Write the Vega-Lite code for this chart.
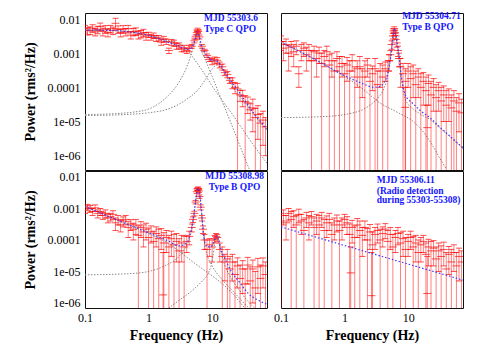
{
"$schema": "https://vega.github.io/schema/vega-lite/v6.json",
"padding": {"left": 22, "top": 10, "right": 5, "bottom": 0},
"background": "white",
"config": {
  "view": {"stroke": "#111", "strokeWidth": 1},
  "axis": {"domain": false, "grid": false, "labelFont": "Liberation Serif", "labelFontSize": 12, "labelColor": "#000", "titleFont": "Liberation Serif", "titleFontSize": 14, "titleFontWeight": "bold", "titleColor": "#000", "tickColor": "#000", "tickSize": 0, "labelOverlap": false, "labelFlush": false, "labelBound": false, "labelPadding": 5}
},
"datasets": {
"d1": [
{"f":0.1,"p":0.0052,"l":0.0039,"h":0.0065},{"f":0.1096,"p":0.0045,"l":0.0034,"h":0.0056},{"f":0.1202,"p":0.0047,"l":0.0035,"h":0.0059},{"f":0.1318,"p":0.0054,"l":0.0041,"h":0.0068},{"f":0.1445,"p":0.0042,"l":0.0032,"h":0.0053},{"f":0.1585,"p":0.0049,"l":0.0037,"h":0.0061},{"f":0.1738,"p":0.0061,"l":0.0046,"h":0.0076},{"f":0.1905,"p":0.0043,"l":0.0032,"h":0.0054},{"f":0.2089,"p":0.0051,"l":0.0038,"h":0.0064},{"f":0.2291,"p":0.0040,"l":0.0030,"h":0.0050},{"f":0.2512,"p":0.0052,"l":0.0039,"h":0.0065},{"f":0.2754,"p":0.0046,"l":0.0035,"h":0.0058},{"f":0.302,"p":0.0075,"l":0.0052,"h":0.0105},{"f":0.3311,"p":0.0050,"l":0.0038,"h":0.0063},{"f":0.3631,"p":0.0040,"l":0.0030,"h":0.0050},{"f":0.3981,"p":0.0051,"l":0.0038,"h":0.0064},{"f":0.4365,"p":0.0042,"l":0.0032,"h":0.0053},{"f":0.4786,"p":0.0052,"l":0.0039,"h":0.0065},{"f":0.5248,"p":0.0034,"l":0.0026,"h":0.0043},{"f":0.5754,"p":0.0042,"l":0.0032,"h":0.0053},{"f":0.631,"p":0.0044,"l":0.0033,"h":0.0055},{"f":0.6918,"p":0.0035,"l":0.0026,"h":0.0044},{"f":0.7586,"p":0.0037,"l":0.0028,"h":0.0046},{"f":0.8318,"p":0.0040,"l":0.0030,"h":0.0050},{"f":0.912,"p":0.0032,"l":0.0024,"h":0.0040},
{"f":1.0,"p":0.0035,"l":0.0029,"h":0.0041},{"f":1.096,"p":0.0029,"l":0.0024,"h":0.0034},{"f":1.202,"p":0.0033,"l":0.0027,"h":0.0039},{"f":1.318,"p":0.0027,"l":0.0022,"h":0.0032},{"f":1.445,"p":0.0028,"l":0.0023,"h":0.0033},{"f":1.585,"p":0.0021,"l":0.0017,"h":0.0025},{"f":1.738,"p":0.0026,"l":0.0021,"h":0.0031},{"f":1.905,"p":0.0022,"l":0.0018,"h":0.0026},{"f":2.089,"p":0.0012,"l":0.00098,"h":0.0014},{"f":2.291,"p":0.0021,"l":0.0017,"h":0.0025},{"f":2.512,"p":0.0020,"l":0.0016,"h":0.0024},{"f":2.754,"p":0.0016,"l":0.0013,"h":0.0019},{"f":3.02,"p":0.0017,"l":0.0014,"h":0.0020},{"f":3.311,"p":0.0013,"l":0.0011,"h":0.0015},{"f":3.631,"p":0.0014,"l":0.0011,"h":0.0017},{"f":3.981,"p":0.0012,"l":0.00098,"h":0.0014},{"f":4.365,"p":0.0014,"l":0.0011,"h":0.0017},{"f":4.786,"p":0.0016,"l":0.0014,"h":0.0018},{"f":5.248,"p":0.0023,"l":0.0020,"h":0.0026},{"f":5.5,"p":0.0030,"l":0.0026,"h":0.0034},{"f":5.754,"p":0.0040,"l":0.0035,"h":0.0045},{"f":5.9,"p":0.0048,"l":0.0042,"h":0.0054},{"f":6.05,"p":0.0043,"l":0.0038,"h":0.0048},{"f":6.31,"p":0.0030,"l":0.0026,"h":0.0034},{"f":6.918,"p":0.0016,"l":0.0014,"h":0.0018},{"f":7.586,"p":0.0012,"l":0.0011,"h":0.0013},{"f":8.318,"p":0.00085,"l":0.00075,"h":0.00095},{"f":9.12,"p":0.00065,"l":0.00057,"h":0.00073},
{"f":10.0,"p":0.00058,"l":0.00046,"h":0.0007},{"f":10.96,"p":0.00064,"l":0.00051,"h":0.00077},{"f":12.02,"p":0.00062,"l":0.0005,"h":0.00074},{"f":13.18,"p":0.00046,"l":0.00037,"h":0.00055},{"f":14.45,"p":0.0004,"l":0.00032,"h":0.00048},{"f":15.85,"p":0.00027,"l":0.00022,"h":0.00032},{"f":17.38,"p":0.00024,"l":0.00019,"h":0.00029},{"f":19.05,"p":0.00016,"l":0.00013,"h":0.00019},{"f":20.89,"p":0.00014,"l":0.000091,"h":0.00019},{"f":22.91,"p":0.0001,"l":0.000065,"h":0.000135},{"f":25.12,"p":0.00009,"l":1e-8,"h":0.00013},{"f":27.54,"p":0.00006,"l":0.000039,"h":0.000081},{"f":30.2,"p":0.000055,"l":0.000027,"h":0.000082},{"f":33.11,"p":0.000038,"l":1e-8,"h":0.000057},{"f":36.31,"p":0.000035,"l":0.000017,"h":0.000052},{"f":39.81,"p":0.000022,"l":0.000011,"h":0.000033},{"f":43.65,"p":0.000025,"l":0.000005,"h":0.000045},{"f":47.86,"p":0.000013,"l":1e-8,"h":0.000024},{"f":52.48,"p":0.000016,"l":0.000003,"h":0.000029},{"f":57.54,"p":0.000009,"l":1e-8,"h":0.000017},{"f":63.1,"p":0.000011,"l":0.000002,"h":0.00002},{"f":69.18,"p":0.000007,"l":0.000001,"h":0.000013}
],
"m1": [
{"f":0.1,"p":0.0047,"s":"t"},{"f":0.2,"p":0.0047,"s":"t"},{"f":0.4,"p":0.0044,"s":"t"},{"f":0.6,"p":0.0040,"s":"t"},{"f":1,"p":0.0033,"s":"t"},{"f":1.5,"p":0.0026,"s":"t"},{"f":2,"p":0.0021,"s":"t"},{"f":2.8,"p":0.0017,"s":"t"},{"f":3.5,"p":0.0014,"s":"t"},{"f":4.3,"p":0.0013,"s":"t"},{"f":4.8,"p":0.0015,"s":"t"},{"f":5.2,"p":0.0021,"s":"t"},{"f":5.5,"p":0.0028,"s":"t"},{"f":5.75,"p":0.0038,"s":"t"},{"f":5.9,"p":0.0042,"s":"t"},{"f":6.1,"p":0.0038,"s":"t"},{"f":6.4,"p":0.0027,"s":"t"},{"f":6.8,"p":0.0017,"s":"t"},{"f":7.5,"p":0.0011,"s":"t"},{"f":8.5,"p":0.0008,"s":"t"},{"f":10,"p":0.0006,"s":"t"},{"f":11.5,"p":0.0006,"s":"t"},{"f":13,"p":0.0005,"s":"t"},{"f":16,"p":0.00028,"s":"t"},{"f":20,"p":0.00015,"s":"t"},{"f":25,"p":0.000085,"s":"t"},{"f":30,"p":0.000052,"s":"t"},{"f":40,"p":0.000024,"s":"t"},{"f":53,"p":0.000012,"s":"t"},{"f":73,"p":0.000006,"s":"t"},
{"f":0.1,"p":0.0047,"s":"a"},{"f":0.3,"p":0.0045,"s":"a"},{"f":0.6,"p":0.0040,"s":"a"},{"f":1,"p":0.0033,"s":"a"},{"f":2,"p":0.0024,"s":"a"},{"f":3,"p":0.0019,"s":"a"},{"f":3.76,"p":0.0015,"s":"a"},{"f":5,"p":0.00075,"s":"a"},{"f":7,"p":0.00031,"s":"a"},{"f":10,"p":0.00011,"s":"a"},{"f":15,"p":0.000037,"s":"a"},{"f":20,"p":0.000018,"s":"a"},{"f":30,"p":0.000006,"s":"a"},{"f":45,"p":0.000002,"s":"a"},{"f":57,"p":0.0000011,"s":"a"},{"f":73,"p":0.0000006,"s":"a"},
{"f":0.1,"p":0.000016,"s":"b"},{"f":0.3,"p":0.000017,"s":"b"},{"f":0.6,"p":0.000019,"s":"b"},{"f":1,"p":0.000023,"s":"b"},{"f":1.5,"p":0.000035,"s":"b"},{"f":2,"p":0.000055,"s":"b"},{"f":3,"p":0.00014,"s":"b"},{"f":4,"p":0.0004,"s":"b"},{"f":5,"p":0.0014,"s":"b"},{"f":5.5,"p":0.0028,"s":"b"},{"f":5.9,"p":0.004,"s":"b"},{"f":6.3,"p":0.0028,"s":"b"},{"f":6.6,"p":0.0015,"s":"b"},{"f":7.5,"p":0.00078,"s":"b"},{"f":9,"p":0.00034,"s":"b"},{"f":12,"p":0.000089,"s":"b"},{"f":16,"p":0.000024,"s":"b"},{"f":22,"p":0.0000055,"s":"b"},{"f":33,"p":0.0000008,"s":"b"},{"f":45,"p":0.0000002,"s":"b"},
{"f":0.1,"p":0.000015,"s":"c"},{"f":0.3,"p":0.0000155,"s":"c"},{"f":0.6,"p":0.0000165,"s":"c"},{"f":1,"p":0.000018,"s":"c"},{"f":2,"p":0.000023,"s":"c"},{"f":3,"p":0.000032,"s":"c"},{"f":4,"p":0.000045,"s":"c"},{"f":6,"p":0.000085,"s":"c"},{"f":8,"p":0.00018,"s":"c"},{"f":10,"p":0.00034,"s":"c"},{"f":12,"p":0.00045,"s":"c"},{"f":14,"p":0.00036,"s":"c"},{"f":17,"p":0.0002,"s":"c"},{"f":20,"p":0.00012,"s":"c"},{"f":25,"p":0.000065,"s":"c"},{"f":30,"p":0.000045,"s":"c"},{"f":40,"p":0.000022,"s":"c"},{"f":53,"p":0.000011,"s":"c"},{"f":73,"p":0.0000055,"s":"c"}
],
"t1": [{"f":7.48,"p":0.0106,"t":"MJD 55303.6"},{"f":7.48,"p":0.0051,"t":"Type C QPO"}],
"d2": [
{"f":0.1,"p":0.0022,"l":0.0012,"h":0.0032},{"f":0.1096,"p":0.0014,"l":0.0006,"h":0.0022},{"f":0.1202,"p":0.0018,"l":0.001,"h":0.0026},{"f":0.1318,"p":0.001,"l":0.0003,"h":0.0017},{"f":0.1445,"p":0.0015,"l":0.0008,"h":0.0022},{"f":0.1585,"p":0.0011,"l":0.0004,"h":0.0018},{"f":0.1738,"p":0.0016,"l":0.0009,"h":0.0023},{"f":0.1905,"p":0.00025,"l":0.0001,"h":0.0004},{"f":0.2089,"p":0.0012,"l":0.0006,"h":0.0018},{"f":0.2291,"p":0.0014,"l":0.0008,"h":0.002},{"f":0.2512,"p":0.0009,"l":0.0003,"h":0.0015},{"f":0.2754,"p":0.0012,"l":0.0006,"h":0.0018},{"f":0.302,"p":0.0006,"l":1e-8,"h":0.0012},{"f":0.3311,"p":0.0011,"l":0.0006,"h":0.0016},{"f":0.3631,"p":0.0007,"l":0.0002,"h":0.0012},{"f":0.3981,"p":0.001,"l":0.0005,"h":0.0015},{"f":0.4365,"p":0.0005,"l":1e-8,"h":0.001},{"f":0.4786,"p":0.0008,"l":0.0004,"h":0.0012},{"f":0.5248,"p":0.0011,"l":0.0006,"h":0.0016},{"f":0.5754,"p":0.00045,"l":1e-8,"h":0.0009},{"f":0.631,"p":0.0006,"l":0.0002,"h":0.001},{"f":0.6918,"p":0.0003,"l":1e-8,"h":0.0006},{"f":0.7586,"p":0.0007,"l":0.0003,"h":0.0011},{"f":0.8318,"p":0.0004,"l":1e-8,"h":0.0008},{"f":0.912,"p":0.0005,"l":0.0002,"h":0.0008},
{"f":1.0,"p":0.00025,"l":1e-8,"h":0.0005},{"f":1.096,"p":0.00045,"l":0.00015,"h":0.00075},{"f":1.202,"p":0.0003,"l":1e-8,"h":0.0006},{"f":1.318,"p":0.0006,"l":0.0003,"h":0.0009},{"f":1.445,"p":0.0002,"l":1e-8,"h":0.0004},{"f":1.585,"p":0.00035,"l":0.0001,"h":0.0006},{"f":1.738,"p":0.0004,"l":1e-8,"h":0.0008},{"f":1.905,"p":0.0002,"l":0.00005,"h":0.00035},{"f":2.089,"p":0.0003,"l":1e-8,"h":0.0006},{"f":2.291,"p":0.00045,"l":0.0002,"h":0.0007},{"f":2.512,"p":0.00015,"l":1e-8,"h":0.00035},{"f":2.754,"p":0.00025,"l":0.00008,"h":0.00042},{"f":3.02,"p":0.00035,"l":1e-8,"h":0.0007},{"f":3.311,"p":0.00012,"l":1e-8,"h":0.0003},{"f":3.631,"p":0.0003,"l":0.0001,"h":0.0005},{"f":3.981,"p":0.0002,"l":1e-8,"h":0.00045},{"f":4.365,"p":0.00035,"l":0.00015,"h":0.00055},{"f":4.786,"p":0.0003,"l":1e-8,"h":0.0006},{"f":5.0,"p":0.0006,"l":0.0003,"h":0.0009},{"f":5.248,"p":0.0009,"l":0.0006,"h":0.0012},{"f":5.5,"p":0.0018,"l":0.0013,"h":0.0023},{"f":5.754,"p":0.0032,"l":0.0026,"h":0.0038},{"f":5.9,"p":0.0045,"l":0.0038,"h":0.0052},{"f":6.05,"p":0.0052,"l":0.0045,"h":0.0059},{"f":6.2,"p":0.004,"l":0.0033,"h":0.0047},{"f":6.31,"p":0.0032,"l":0.0026,"h":0.0038},{"f":6.6,"p":0.002,"l":0.0015,"h":0.0025},{"f":6.918,"p":0.0012,"l":0.0008,"h":0.0016},{"f":7.2,"p":0.0007,"l":0.0004,"h":0.001},{"f":7.586,"p":0.0004,"l":0.0001,"h":0.0007},{"f":8.318,"p":0.00025,"l":1e-8,"h":0.0005},{"f":9.0,"p":0.000026,"l":1e-8,"h":0.0001},{"f":9.12,"p":0.00015,"l":1e-8,"h":0.00035},
{"f":10.0,"p":0.0003,"l":0.0001,"h":0.0005},{"f":10.96,"p":0.00018,"l":1e-8,"h":0.0004},{"f":12.02,"p":0.00025,"l":0.00005,"h":0.00045},{"f":13.18,"p":0.00012,"l":1e-8,"h":0.0003},{"f":14.45,"p":0.0002,"l":0.00005,"h":0.00035},{"f":15.85,"p":0.0001,"l":1e-8,"h":0.00025},{"f":17.38,"p":0.00015,"l":0.00003,"h":0.00027},{"f":19.05,"p":0.00008,"l":1e-8,"h":0.0002},{"f":20.0,"p":0.0000066,"l":1e-8,"h":0.00003},{"f":20.89,"p":0.00013,"l":0.00003,"h":0.00023},{"f":22.91,"p":0.00006,"l":1e-8,"h":0.00015},{"f":25.12,"p":0.0001,"l":0.00002,"h":0.00018},{"f":27.54,"p":0.00005,"l":1e-8,"h":0.00012},{"f":30.2,"p":0.00008,"l":0.00002,"h":0.00014},{"f":33.11,"p":0.00004,"l":1e-8,"h":0.0001},{"f":36.31,"p":0.00006,"l":0.00001,"h":0.00011},{"f":39.81,"p":0.00003,"l":1e-8,"h":0.00008},{"f":43.65,"p":0.00005,"l":0.00001,"h":0.00009},{"f":47.86,"p":0.000025,"l":1e-8,"h":0.00006},{"f":52.48,"p":0.00004,"l":1e-8,"h":0.00008},{"f":57.54,"p":0.00002,"l":1e-8,"h":0.00005},{"f":63.1,"p":0.000035,"l":0.000005,"h":0.000065},{"f":69.18,"p":0.000018,"l":1e-8,"h":0.000045}
],
"m2": [
{"f":0.1,"p":0.0021,"s":"t"},{"f":0.3,"p":0.00075,"s":"t"},{"f":1,"p":0.00022,"s":"t"},{"f":2,"p":0.000125,"s":"t"},{"f":2.85,"p":0.0001,"s":"t"},{"f":3.6,"p":0.000105,"s":"t"},{"f":4.2,"p":0.00014,"s":"t"},{"f":4.6,"p":0.0002,"s":"t"},{"f":5.2,"p":0.0006,"s":"t"},{"f":5.5,"p":0.0012,"s":"t"},{"f":5.8,"p":0.003,"s":"t"},{"f":6.1,"p":0.0053,"s":"t"},{"f":6.5,"p":0.003,"s":"t"},{"f":7,"p":0.0012,"s":"t"},{"f":7.5,"p":0.0004,"s":"t"},{"f":8,"p":0.00016,"s":"t"},{"f":9,"p":0.00006,"s":"t"},{"f":10,"p":0.000045,"s":"t"},{"f":12,"p":0.000033,"s":"t"},{"f":16,"p":0.00002,"s":"t"},{"f":22,"p":0.000013,"s":"t"},{"f":30,"p":0.0000075,"s":"t"},{"f":45,"p":0.0000038,"s":"t"},{"f":73,"p":0.0000017,"s":"t"},
{"f":0.1,"p":0.0021,"s":"a"},{"f":0.3,"p":0.00074,"s":"a"},{"f":1,"p":0.00021,"s":"a"},{"f":2,"p":0.000085,"s":"a"},{"f":3.6,"p":0.000035,"s":"a"},{"f":7,"p":0.000018,"s":"a"},{"f":12,"p":0.00001,"s":"a"},{"f":18,"p":0.0000045,"s":"a"},{"f":25,"p":0.0000018,"s":"a"},{"f":32,"p":0.0000008,"s":"a"},{"f":40,"p":0.0000004,"s":"a"},
{"f":0.1,"p":0.000013,"s":"b"},{"f":0.5,"p":0.000014,"s":"b"},{"f":1.2,"p":0.000017,"s":"b"},{"f":2,"p":0.000023,"s":"b"},{"f":3,"p":0.00004,"s":"b"},{"f":4,"p":0.00008,"s":"b"},{"f":4.6,"p":0.00016,"s":"b"},{"f":5.2,"p":0.00055,"s":"b"},{"f":5.5,"p":0.00115,"s":"b"},{"f":5.8,"p":0.003,"s":"b"},{"f":6.1,"p":0.0053,"s":"b"},{"f":6.5,"p":0.003,"s":"b"},{"f":7,"p":0.0012,"s":"b"},{"f":7.5,"p":0.0004,"s":"b"},{"f":8,"p":0.00014,"s":"b"},{"f":9,"p":0.000045,"s":"b"},{"f":10,"p":0.000032,"s":"b"},{"f":12,"p":0.000023,"s":"b"},{"f":16,"p":0.000016,"s":"b"},{"f":22,"p":0.0000115,"s":"b"},{"f":30,"p":0.000007,"s":"b"},{"f":45,"p":0.0000036,"s":"b"},{"f":73,"p":0.0000016,"s":"b"}
],
"t2": [{"f":8.05,"p":0.0125,"t":"MJD 55304.71"},{"f":8.05,"p":0.006,"t":"Type B QPO"}],
"d3": [
{"f":0.1,"p":0.00095,"l":0.0007,"h":0.0012},{"f":0.1096,"p":0.0011,"l":0.00085,"h":0.00135},{"f":0.1202,"p":0.001,"l":0.00075,"h":0.00125},{"f":0.1318,"p":0.0008,"l":0.0006,"h":0.001},{"f":0.1445,"p":0.00105,"l":0.0008,"h":0.0013},{"f":0.1585,"p":0.0007,"l":0.0005,"h":0.0009},{"f":0.1738,"p":0.0008,"l":0.0006,"h":0.001},{"f":0.1905,"p":0.0006,"l":0.00045,"h":0.00075},{"f":0.2089,"p":0.0007,"l":0.0005,"h":0.0009},{"f":0.2291,"p":0.0005,"l":0.00035,"h":0.00065},{"f":0.2512,"p":0.00055,"l":0.0004,"h":0.0007},{"f":0.2754,"p":0.00065,"l":0.00045,"h":0.00085},{"f":0.302,"p":0.00035,"l":0.0002,"h":0.0005},{"f":0.3311,"p":0.00045,"l":0.0003,"h":0.0006},{"f":0.3631,"p":0.0003,"l":0.00018,"h":0.00042},{"f":0.3981,"p":0.0004,"l":0.00026,"h":0.00054},{"f":0.4365,"p":0.00045,"l":0.0003,"h":0.0006},{"f":0.4786,"p":0.00025,"l":0.00012,"h":0.00038},{"f":0.5248,"p":0.00032,"l":0.0002,"h":0.00044},{"f":0.5754,"p":0.00022,"l":0.0001,"h":0.00034},{"f":0.631,"p":0.0003,"l":0.00015,"h":0.00045},{"f":0.6918,"p":0.00014,"l":1e-8,"h":0.00028},{"f":0.7586,"p":0.00025,"l":0.00012,"h":0.00038},{"f":0.8318,"p":0.00018,"l":0.00006,"h":0.0003},{"f":0.912,"p":0.00022,"l":0.0001,"h":0.00034},
{"f":1.0,"p":0.00012,"l":1e-8,"h":0.00024},{"f":1.096,"p":0.00018,"l":0.00008,"h":0.00028},{"f":1.202,"p":0.00009,"l":1e-8,"h":0.00019},{"f":1.318,"p":0.00016,"l":0.00006,"h":0.00026},{"f":1.445,"p":0.00011,"l":1e-8,"h":0.00022},{"f":1.585,"p":0.00014,"l":0.00005,"h":0.00023},{"f":1.69,"p":0.0000018,"l":1e-8,"h":0.00004},{"f":1.738,"p":0.00008,"l":1e-8,"h":0.00017},{"f":1.905,"p":0.00012,"l":0.00004,"h":0.0002},{"f":2.089,"p":0.00006,"l":1e-8,"h":0.00014},{"f":2.291,"p":0.00011,"l":0.00003,"h":0.00019},{"f":2.512,"p":0.00007,"l":1e-8,"h":0.00015},{"f":2.754,"p":0.00009,"l":0.00002,"h":0.00016},{"f":3.02,"p":0.000045,"l":1e-8,"h":0.00011},{"f":3.311,"p":0.00008,"l":0.00002,"h":0.00014},{"f":3.631,"p":0.00006,"l":1e-8,"h":0.00013},{"f":3.981,"p":0.00009,"l":0.00004,"h":0.00014},{"f":4.365,"p":0.00013,"l":0.00007,"h":0.00019},{"f":4.786,"p":0.00025,"l":0.00018,"h":0.00032},{"f":5.0,"p":0.00045,"l":0.00036,"h":0.00054},{"f":5.248,"p":0.0007,"l":0.00058,"h":0.00082},{"f":5.5,"p":0.0016,"l":0.0014,"h":0.0018},{"f":5.754,"p":0.0034,"l":0.003,"h":0.0038},{"f":5.9,"p":0.0042,"l":0.0037,"h":0.0047},{"f":6.05,"p":0.0043,"l":0.0038,"h":0.0048},{"f":6.2,"p":0.0036,"l":0.0032,"h":0.004},{"f":6.31,"p":0.0024,"l":0.0021,"h":0.0027},{"f":6.6,"p":0.0011,"l":0.0009,"h":0.0013},{"f":6.918,"p":0.0005,"l":0.0004,"h":0.0006},{"f":7.2,"p":0.00022,"l":0.00016,"h":0.00028},{"f":7.586,"p":0.0001,"l":0.00005,"h":0.00015},{"f":8.318,"p":0.00005,"l":1e-8,"h":0.0001},{"f":9.12,"p":0.00007,"l":0.00003,"h":0.00011},
{"f":10.0,"p":0.00006,"l":0.00002,"h":0.0001},{"f":10.96,"p":0.00011,"l":0.00008,"h":0.00014},{"f":11.5,"p":0.00013,"l":0.0001,"h":0.00016},{"f":12.02,"p":0.00012,"l":0.00009,"h":0.00015},{"f":13.18,"p":0.00005,"l":0.00002,"h":0.00008},{"f":14.45,"p":0.00003,"l":1e-8,"h":0.00006},{"f":15.85,"p":0.00002,"l":0.000005,"h":0.000035},{"f":17.38,"p":0.000025,"l":1e-8,"h":0.00005},{"f":19.05,"p":0.000012,"l":1e-8,"h":0.00003},{"f":20.89,"p":0.00002,"l":0.000005,"h":0.000035},{"f":22.91,"p":0.000008,"l":1e-8,"h":0.00002},{"f":25.12,"p":0.000015,"l":0.000003,"h":0.000027},{"f":27.54,"p":0.000006,"l":1e-8,"h":0.000016},{"f":30.2,"p":0.000012,"l":0.000002,"h":0.000022},{"f":33.11,"p":0.000004,"l":1e-8,"h":0.000012},{"f":36.31,"p":0.000016,"l":0.000004,"h":0.000028},{"f":39.81,"p":0.000005,"l":1e-8,"h":0.000014},{"f":43.65,"p":0.000012,"l":0.000001,"h":0.000023},{"f":47.86,"p":0.000003,"l":1e-8,"h":0.00001},{"f":52.48,"p":0.000014,"l":0.000002,"h":0.000026},{"f":57.54,"p":0.000006,"l":1e-8,"h":0.000016},{"f":63.1,"p":0.000015,"l":0.000003,"h":0.000027},{"f":69.18,"p":0.000008,"l":1e-8,"h":0.00002}
],
"m3": [
{"f":0.1,"p":0.00116,"s":"t"},{"f":0.2,"p":0.00064,"s":"t"},{"f":0.5,"p":0.0003,"s":"t"},{"f":1,"p":0.00017,"s":"t"},{"f":2,"p":0.000095,"s":"t"},{"f":3,"p":0.000065,"s":"t"},{"f":4,"p":0.00008,"s":"t"},{"f":4.5,"p":0.00015,"s":"t"},{"f":5,"p":0.0004,"s":"t"},{"f":5.4,"p":0.00127,"s":"t"},{"f":5.8,"p":0.0036,"s":"t"},{"f":6.05,"p":0.0044,"s":"t"},{"f":6.3,"p":0.0035,"s":"t"},{"f":6.7,"p":0.0012,"s":"t"},{"f":7.1,"p":0.0003,"s":"t"},{"f":7.6,"p":0.00009,"s":"t"},{"f":8.5,"p":0.00006,"s":"t"},{"f":9.5,"p":0.00006,"s":"t"},{"f":10.5,"p":0.00008,"s":"t"},{"f":11.2,"p":0.000115,"s":"t"},{"f":11.9,"p":0.000135,"s":"t"},{"f":12.8,"p":0.0001,"s":"t"},{"f":14,"p":0.000045,"s":"t"},{"f":16,"p":0.000025,"s":"t"},{"f":20,"p":0.00001,"s":"t"},{"f":27,"p":0.0000045,"s":"t"},{"f":37,"p":0.000002,"s":"t"},{"f":50,"p":0.0000013,"s":"t"},{"f":73,"p":0.0000009,"s":"t"},
{"f":0.1,"p":0.00115,"s":"a"},{"f":0.3,"p":0.00045,"s":"a"},{"f":1,"p":0.00016,"s":"a"},{"f":2,"p":0.00008,"s":"a"},{"f":3,"p":0.000045,"s":"a"},{"f":5,"p":0.00002,"s":"a"},{"f":8,"p":0.00001,"s":"a"},{"f":12,"p":0.0000055,"s":"a"},{"f":20,"p":0.0000022,"s":"a"},{"f":28,"p":0.000001,"s":"a"},{"f":40,"p":0.0000004,"s":"a"},
{"f":0.1,"p":0.0000078,"s":"b"},{"f":0.5,"p":0.0000085,"s":"b"},{"f":1,"p":0.00001,"s":"b"},{"f":1.9,"p":0.000016,"s":"b"},{"f":3,"p":0.00003,"s":"b"},{"f":4,"p":0.00007,"s":"b"},{"f":4.5,"p":0.00013,"s":"b"},{"f":5,"p":0.00038,"s":"b"},{"f":5.4,"p":0.00125,"s":"b"},{"f":5.8,"p":0.0036,"s":"b"},{"f":6.05,"p":0.0044,"s":"b"},{"f":6.3,"p":0.0035,"s":"b"},{"f":6.7,"p":0.0012,"s":"b"},{"f":7.1,"p":0.00028,"s":"b"},{"f":7.6,"p":0.00008,"s":"b"},{"f":8.5,"p":0.00003,"s":"b"},{"f":10,"p":0.000015,"s":"b"},{"f":15,"p":0.000005,"s":"b"},{"f":22,"p":0.0000022,"s":"b"},{"f":35,"p":0.0000008,"s":"b"},{"f":45,"p":0.0000005,"s":"b"},
{"f":1.9,"p":0.0000006,"s":"c"},{"f":3,"p":0.0000012,"s":"c"},{"f":5,"p":0.0000026,"s":"c"},{"f":7,"p":0.000005,"s":"c"},{"f":8.5,"p":0.000008,"s":"c"},{"f":9.5,"p":0.000014,"s":"c"},{"f":10.3,"p":0.00003,"s":"c"},{"f":11,"p":0.00008,"s":"c"},{"f":11.9,"p":0.000125,"s":"c"},{"f":12.8,"p":0.00008,"s":"c"},{"f":14,"p":0.000035,"s":"c"},{"f":16,"p":0.000015,"s":"c"},{"f":20,"p":0.000006,"s":"c"},{"f":27,"p":0.0000025,"s":"c"},{"f":37,"p":0.0000011,"s":"c"},{"f":50,"p":0.0000006,"s":"c"},{"f":73,"p":0.0000003,"s":"c"}
],
"t3": [{"f":22.6,"p":0.011,"t":"MJD 55308.98"},{"f":22.6,"p":0.0049,"t":"Type B QPO"}],
"d4": [
{"f":0.1,"p":0.0004,"l":1e-8,"h":0.0007},{"f":0.1096,"p":0.0006,"l":0.0003,"h":0.0009},{"f":0.1202,"p":0.00035,"l":0.0001,"h":0.0006},{"f":0.1318,"p":0.0007,"l":0.0004,"h":0.001},{"f":0.1445,"p":0.00045,"l":1e-8,"h":0.0008},{"f":0.1585,"p":0.00055,"l":0.00025,"h":0.00085},{"f":0.1738,"p":0.0003,"l":1e-8,"h":0.0006},{"f":0.1905,"p":0.00065,"l":0.00035,"h":0.00095},{"f":0.2089,"p":0.0004,"l":0.00015,"h":0.00065},{"f":0.2291,"p":0.0002,"l":1e-8,"h":0.00045},{"f":0.2512,"p":0.0005,"l":0.00025,"h":0.00075},{"f":0.2754,"p":0.00035,"l":0.0001,"h":0.0006},{"f":0.302,"p":0.00055,"l":0.0003,"h":0.0008},{"f":0.3311,"p":0.00025,"l":1e-8,"h":0.0005},{"f":0.3631,"p":0.0004,"l":0.00015,"h":0.00065},{"f":0.3981,"p":0.0003,"l":1e-8,"h":0.0006},{"f":0.4365,"p":0.0005,"l":0.00025,"h":0.00075},{"f":0.4786,"p":0.0002,"l":1e-8,"h":0.00045},{"f":0.5248,"p":0.00035,"l":0.00012,"h":0.00058},{"f":0.5754,"p":0.00045,"l":0.0002,"h":0.0007},{"f":0.631,"p":0.00015,"l":1e-8,"h":0.00035},{"f":0.6918,"p":0.0003,"l":0.0001,"h":0.0005},{"f":0.7586,"p":0.0004,"l":0.00018,"h":0.00062},{"f":0.8318,"p":0.0002,"l":1e-8,"h":0.0004},{"f":0.912,"p":0.0003,"l":0.0001,"h":0.0005},
{"f":1.0,"p":0.00045,"l":0.00025,"h":0.00065},{"f":1.096,"p":0.00035,"l":0.00015,"h":0.00055},{"f":1.202,"p":0.00015,"l":1e-8,"h":0.00032},{"f":1.25,"p":0.000009,"l":1e-8,"h":0.00006},{"f":1.318,"p":0.00025,"l":0.00008,"h":0.00042},{"f":1.445,"p":0.00012,"l":1e-8,"h":0.00028},{"f":1.585,"p":0.0003,"l":0.00012,"h":0.00048},{"f":1.738,"p":0.0002,"l":1e-8,"h":0.0004},{"f":1.905,"p":0.00014,"l":0.00003,"h":0.00025},{"f":2.089,"p":0.00025,"l":0.0001,"h":0.0004},{"f":2.291,"p":0.0001,"l":1e-8,"h":0.00023},{"f":2.512,"p":0.00018,"l":0.00005,"h":0.00031},{"f":2.65,"p":0.0000017,"l":1e-8,"h":0.00004},{"f":2.754,"p":0.00007,"l":1e-8,"h":0.00018},{"f":3.02,"p":0.00015,"l":0.00005,"h":0.00025},{"f":3.311,"p":0.0002,"l":0.00008,"h":0.00032},{"f":3.631,"p":0.0001,"l":1e-8,"h":0.00022},{"f":3.981,"p":0.00016,"l":0.00006,"h":0.00026},{"f":4.365,"p":0.00022,"l":0.00011,"h":0.00033},{"f":4.786,"p":0.00009,"l":1e-8,"h":0.0002},{"f":5.248,"p":0.00015,"l":0.00005,"h":0.00025},{"f":5.754,"p":0.00006,"l":1e-8,"h":0.00015},{"f":6.31,"p":0.00012,"l":0.00004,"h":0.0002},{"f":6.918,"p":0.00016,"l":0.00007,"h":0.00025},{"f":7.586,"p":0.00008,"l":1e-8,"h":0.00017},{"f":8.318,"p":0.00011,"l":0.00003,"h":0.00019},{"f":9.12,"p":0.00005,"l":1e-8,"h":0.00012},
{"f":10.0,"p":0.00009,"l":0.00003,"h":0.00015},{"f":10.96,"p":0.00012,"l":0.00005,"h":0.00019},{"f":12.02,"p":0.00006,"l":1e-8,"h":0.00013},{"f":13.18,"p":0.00008,"l":0.00002,"h":0.00014},{"f":14.45,"p":0.00004,"l":1e-8,"h":0.0001},{"f":15.85,"p":0.00007,"l":0.00002,"h":0.00012},{"f":17.38,"p":0.00009,"l":0.00004,"h":0.00014},{"f":19.05,"p":0.000035,"l":1e-8,"h":0.00008},{"f":20.0,"p":0.000002,"l":1e-8,"h":0.00003},{"f":20.89,"p":0.00006,"l":0.000015,"h":0.000105},{"f":22.91,"p":0.000045,"l":1e-8,"h":0.00009},{"f":25.12,"p":0.000055,"l":0.000015,"h":0.000095},{"f":27.54,"p":0.000025,"l":1e-8,"h":0.00006},{"f":30.2,"p":0.000045,"l":0.00001,"h":0.00008},{"f":33.11,"p":0.00003,"l":1e-8,"h":0.000065},{"f":36.31,"p":0.00005,"l":0.000015,"h":0.000085},{"f":39.81,"p":0.000012,"l":1e-8,"h":0.00004},{"f":43.65,"p":0.000035,"l":0.000008,"h":0.000062},{"f":47.86,"p":0.00002,"l":1e-8,"h":0.00005},{"f":52.48,"p":0.00004,"l":0.00001,"h":0.00007},{"f":57.54,"p":0.000015,"l":1e-8,"h":0.00004},{"f":63.1,"p":0.00003,"l":0.000005,"h":0.000055},{"f":69.18,"p":0.00002,"l":1e-8,"h":0.000045}
],
"m4": [{"f":0.1,"p":0.00026,"s":"t"},{"f":73,"p":0.0000053,"s":"t"}],
"t4": [{"f":3.21,"p":0.008,"t":"MJD 55306.11"},{"f":3.21,"p":0.00367,"t":"(Radio detection"},{"f":3.21,"p":0.00186,"t":"during 55303-55308)"}]
},
"columns": 2,
"bounds": "flush",
"spacing": {"row": 1, "column": 14},
"concat": [
{"width": 182, "height": 157,
 "resolve": {"axis": {"x": "independent", "y": "independent"}},
 "layer": [
  {"data": {"name": "m1"}, "transform": [{"filter": "datum.s != 't'"}],
   "mark": {"type": "line", "color": "#8a8a8a", "strokeWidth": 1, "strokeDash": [1.5, 1.5], "clip": true, "interpolate": "monotone"},
   "encoding": {
    "x": {"field": "f", "type": "quantitative", "scale": {"type": "log", "domain": [0.1, 73], "nice": false}, "axis": {"orient": "bottom", "labels": false, "title": null, "values": [0.1,0.2,0.3,0.4,0.5,0.6,0.7,0.8,0.9,1,2,3,4,5,6,7,8,9,10,20,30,40,50,60,70], "encode": {"ticks": {"update": {"y2": {"signal": "abs(log(datum.value)/LN10-round(log(datum.value)/LN10))<0.01?-6:-3"}}}}}},
    "y": {"field": "p", "type": "quantitative", "scale": {"type": "log", "domain": [3.8e-7, 0.015], "nice": false}, "axis": {"orient": "left", "title": "Power (rms²/Hz)", "titlePadding": 10, "values": [4e-7,5e-7,6e-7,7e-7,8e-7,9e-7,1e-6,2e-6,3e-6,4e-6,5e-6,6e-6,7e-6,8e-6,9e-6,1e-5,2e-5,3e-5,4e-5,5e-5,6e-5,7e-5,8e-5,9e-5,1e-4,2e-4,3e-4,4e-4,5e-4,6e-4,7e-4,8e-4,9e-4,0.001,0.002,0.003,0.004,0.005,0.006,0.007,0.008,0.009,0.01], "labelExpr": "datum.value==0.01?'0.01':datum.value==0.001?'0.001':datum.value==0.0001?'0.0001':datum.value==0.00001?'1e-05':datum.value==0.000001?'1e-06':''", "encode": {"ticks": {"update": {"x2": {"signal": "abs(log(datum.value)/LN10-round(log(datum.value)/LN10))<0.01?6:3"}}}}}},
    "detail": {"field": "s"}}},
  {"data": {"name": "d1"},
   "mark": {"type": "rule", "color": "#ff0000", "opacity": 0.5, "strokeWidth": 1, "clip": true},
   "encoding": {
    "x": {"field": "f", "type": "quantitative", "scale": {"type": "log", "domain": [0.1, 73], "nice": false}, "axis": {"orient": "top", "labels": false, "title": null, "values": [0.1,0.2,0.3,0.4,0.5,0.6,0.7,0.8,0.9,1,2,3,4,5,6,7,8,9,10,20,30,40,50,60,70], "encode": {"ticks": {"update": {"y2": {"signal": "abs(log(datum.value)/LN10-round(log(datum.value)/LN10))<0.01?6:3"}}}}}},
    "y": {"field": "l", "type": "quantitative", "scale": {"type": "log", "domain": [3.8e-7, 0.015], "nice": false}, "axis": {"orient": "right", "labels": false, "title": null, "values": [4e-7,5e-7,6e-7,7e-7,8e-7,9e-7,1e-6,2e-6,3e-6,4e-6,5e-6,6e-6,7e-6,8e-6,9e-6,1e-5,2e-5,3e-5,4e-5,5e-5,6e-5,7e-5,8e-5,9e-5,1e-4,2e-4,3e-4,4e-4,5e-4,6e-4,7e-4,8e-4,9e-4,0.001,0.002,0.003,0.004,0.005,0.006,0.007,0.008,0.009,0.01], "encode": {"ticks": {"update": {"x2": {"signal": "abs(log(datum.value)/LN10-round(log(datum.value)/LN10))<0.01?-6:-3"}}}}}},
    "y2": {"field": "h"}}},
  {"data": {"name": "d1"},
   "mark": {"type": "tick", "orient": "horizontal", "color": "#ff0000", "size": 6, "thickness": 1, "clip": true},
   "encoding": {"x": {"field": "f", "type": "quantitative", "scale": {"type": "log", "domain": [0.1, 73], "nice": false}, "axis": null},
    "y": {"field": "l", "type": "quantitative", "scale": {"type": "log", "domain": [3.8e-7, 0.015], "nice": false}, "axis": null}}},
  {"data": {"name": "d1"},
   "mark": {"type": "tick", "orient": "horizontal", "color": "#ff0000", "size": 6, "thickness": 1, "clip": true},
   "encoding": {"x": {"field": "f", "type": "quantitative", "scale": {"type": "log", "domain": [0.1, 73], "nice": false}, "axis": null},
    "y": {"field": "h", "type": "quantitative", "scale": {"type": "log", "domain": [3.8e-7, 0.015], "nice": false}, "axis": null}}},
  {"data": {"name": "d1"},
   "mark": {"type": "tick", "orient": "horizontal", "color": "#ff0000", "size": 8, "thickness": 1, "clip": true},
   "encoding": {"x": {"field": "f", "type": "quantitative", "scale": {"type": "log", "domain": [0.1, 73], "nice": false}, "axis": null},
    "y": {"field": "p", "type": "quantitative", "scale": {"type": "log", "domain": [3.8e-7, 0.015], "nice": false}, "axis": null}}},
  {"data": {"name": "m1"}, "transform": [{"filter": "datum.s == 't'"}],
   "mark": {"type": "line", "color": "#3b3bff", "strokeWidth": 1.2, "strokeDash": [1.5, 2], "clip": true, "interpolate": "monotone"},
   "encoding": {"x": {"field": "f", "type": "quantitative", "scale": {"type": "log", "domain": [0.1, 73], "nice": false}, "axis": null},
    "y": {"field": "p", "type": "quantitative", "scale": {"type": "log", "domain": [3.8e-7, 0.015], "nice": false}, "axis": null}}},
  {"data": {"name": "t1"},
   "mark": {"type": "text", "font": "Liberation Serif", "fontSize": 9.5, "fontWeight": "bold", "color": "#1414ff", "align": "left", "baseline": "middle"},
   "encoding": {"x": {"field": "f", "type": "quantitative", "scale": {"type": "log", "domain": [0.1, 73], "nice": false}, "axis": null},
    "y": {"field": "p", "type": "quantitative", "scale": {"type": "log", "domain": [3.8e-7, 0.015], "nice": false}, "axis": null},
    "text": {"field": "t"}}}
 ]},
{"width": 182, "height": 157,
 "resolve": {"axis": {"x": "independent", "y": "independent"}},
 "layer": [
  {"data": {"name": "m2"}, "transform": [{"filter": "datum.s != 't'"}],
   "mark": {"type": "line", "color": "#8a8a8a", "strokeWidth": 1, "strokeDash": [1.5, 1.5], "clip": true, "interpolate": "monotone"},
   "encoding": {
    "x": {"field": "f", "type": "quantitative", "scale": {"type": "log", "domain": [0.1, 73], "nice": false}, "axis": {"orient": "bottom", "labels": false, "title": null, "values": [0.1,0.2,0.3,0.4,0.5,0.6,0.7,0.8,0.9,1,2,3,4,5,6,7,8,9,10,20,30,40,50,60,70], "encode": {"ticks": {"update": {"y2": {"signal": "abs(log(datum.value)/LN10-round(log(datum.value)/LN10))<0.01?-6:-3"}}}}}},
    "y": {"field": "p", "type": "quantitative", "scale": {"type": "log", "domain": [3.8e-7, 0.015], "nice": false}, "axis": {"orient": "left", "labels": false, "title": null, "values": [4e-7,5e-7,6e-7,7e-7,8e-7,9e-7,1e-6,2e-6,3e-6,4e-6,5e-6,6e-6,7e-6,8e-6,9e-6,1e-5,2e-5,3e-5,4e-5,5e-5,6e-5,7e-5,8e-5,9e-5,1e-4,2e-4,3e-4,4e-4,5e-4,6e-4,7e-4,8e-4,9e-4,0.001,0.002,0.003,0.004,0.005,0.006,0.007,0.008,0.009,0.01], "encode": {"ticks": {"update": {"x2": {"signal": "abs(log(datum.value)/LN10-round(log(datum.value)/LN10))<0.01?6:3"}}}}}},
    "detail": {"field": "s"}}},
  {"data": {"name": "d2"},
   "mark": {"type": "rule", "color": "#ff0000", "opacity": 0.5, "strokeWidth": 1, "clip": true},
   "encoding": {
    "x": {"field": "f", "type": "quantitative", "scale": {"type": "log", "domain": [0.1, 73], "nice": false}, "axis": {"orient": "top", "labels": false, "title": null, "values": [0.1,0.2,0.3,0.4,0.5,0.6,0.7,0.8,0.9,1,2,3,4,5,6,7,8,9,10,20,30,40,50,60,70], "encode": {"ticks": {"update": {"y2": {"signal": "abs(log(datum.value)/LN10-round(log(datum.value)/LN10))<0.01?6:3"}}}}}},
    "y": {"field": "l", "type": "quantitative", "scale": {"type": "log", "domain": [3.8e-7, 0.015], "nice": false}, "axis": {"orient": "right", "labels": false, "title": null, "values": [4e-7,5e-7,6e-7,7e-7,8e-7,9e-7,1e-6,2e-6,3e-6,4e-6,5e-6,6e-6,7e-6,8e-6,9e-6,1e-5,2e-5,3e-5,4e-5,5e-5,6e-5,7e-5,8e-5,9e-5,1e-4,2e-4,3e-4,4e-4,5e-4,6e-4,7e-4,8e-4,9e-4,0.001,0.002,0.003,0.004,0.005,0.006,0.007,0.008,0.009,0.01], "encode": {"ticks": {"update": {"x2": {"signal": "abs(log(datum.value)/LN10-round(log(datum.value)/LN10))<0.01?-6:-3"}}}}}},
    "y2": {"field": "h"}}},
  {"data": {"name": "d2"},
   "mark": {"type": "tick", "orient": "horizontal", "color": "#ff0000", "size": 6, "thickness": 1, "clip": true},
   "encoding": {"x": {"field": "f", "type": "quantitative", "scale": {"type": "log", "domain": [0.1, 73], "nice": false}, "axis": null},
    "y": {"field": "l", "type": "quantitative", "scale": {"type": "log", "domain": [3.8e-7, 0.015], "nice": false}, "axis": null}}},
  {"data": {"name": "d2"},
   "mark": {"type": "tick", "orient": "horizontal", "color": "#ff0000", "size": 6, "thickness": 1, "clip": true},
   "encoding": {"x": {"field": "f", "type": "quantitative", "scale": {"type": "log", "domain": [0.1, 73], "nice": false}, "axis": null},
    "y": {"field": "h", "type": "quantitative", "scale": {"type": "log", "domain": [3.8e-7, 0.015], "nice": false}, "axis": null}}},
  {"data": {"name": "d2"},
   "mark": {"type": "tick", "orient": "horizontal", "color": "#ff0000", "size": 8, "thickness": 1, "clip": true},
   "encoding": {"x": {"field": "f", "type": "quantitative", "scale": {"type": "log", "domain": [0.1, 73], "nice": false}, "axis": null},
    "y": {"field": "p", "type": "quantitative", "scale": {"type": "log", "domain": [3.8e-7, 0.015], "nice": false}, "axis": null}}},
  {"data": {"name": "m2"}, "transform": [{"filter": "datum.s == 't'"}],
   "mark": {"type": "line", "color": "#3b3bff", "strokeWidth": 1.2, "strokeDash": [1.5, 2], "clip": true, "interpolate": "monotone"},
   "encoding": {"x": {"field": "f", "type": "quantitative", "scale": {"type": "log", "domain": [0.1, 73], "nice": false}, "axis": null},
    "y": {"field": "p", "type": "quantitative", "scale": {"type": "log", "domain": [3.8e-7, 0.015], "nice": false}, "axis": null}}},
  {"data": {"name": "t2"},
   "mark": {"type": "text", "font": "Liberation Serif", "fontSize": 9.5, "fontWeight": "bold", "color": "#1414ff", "align": "left", "baseline": "middle"},
   "encoding": {"x": {"field": "f", "type": "quantitative", "scale": {"type": "log", "domain": [0.1, 73], "nice": false}, "axis": null},
    "y": {"field": "p", "type": "quantitative", "scale": {"type": "log", "domain": [3.8e-7, 0.015], "nice": false}, "axis": null},
    "text": {"field": "t"}}}
 ]},
{"width": 182, "height": 137,
 "resolve": {"axis": {"x": "independent", "y": "independent"}},
 "layer": [
  {"data": {"name": "m3"}, "transform": [{"filter": "datum.s != 't'"}],
   "mark": {"type": "line", "color": "#8a8a8a", "strokeWidth": 1, "strokeDash": [1.5, 1.5], "clip": true, "interpolate": "monotone"},
   "encoding": {
    "x": {"field": "f", "type": "quantitative", "scale": {"type": "log", "domain": [0.1, 73], "nice": false}, "axis": {"orient": "bottom", "title": "Frequency (Hz)", "titlePadding": 5, "labelPadding": 4, "values": [0.1,0.2,0.3,0.4,0.5,0.6,0.7,0.8,0.9,1,2,3,4,5,6,7,8,9,10,20,30,40,50,60,70], "labelExpr": "datum.value==0.1?'0.1':datum.value==1?'1':datum.value==10?'10':''", "encode": {"ticks": {"update": {"y2": {"signal": "abs(log(datum.value)/LN10-round(log(datum.value)/LN10))<0.01?-6:-3"}}}}}},
    "y": {"field": "p", "type": "quantitative", "scale": {"type": "log", "domain": [6.9e-7, 0.0155], "nice": false}, "axis": {"orient": "left", "title": "Power (rms²/Hz)", "titlePadding": 10, "values": [7e-7,8e-7,9e-7,1e-6,2e-6,3e-6,4e-6,5e-6,6e-6,7e-6,8e-6,9e-6,1e-5,2e-5,3e-5,4e-5,5e-5,6e-5,7e-5,8e-5,9e-5,1e-4,2e-4,3e-4,4e-4,5e-4,6e-4,7e-4,8e-4,9e-4,0.001,0.002,0.003,0.004,0.005,0.006,0.007,0.008,0.009,0.01], "labelExpr": "datum.value==0.01?'0.01':datum.value==0.001?'0.001':datum.value==0.0001?'0.0001':datum.value==0.00001?'1e-05':datum.value==0.000001?'1e-06':''", "encode": {"ticks": {"update": {"x2": {"signal": "abs(log(datum.value)/LN10-round(log(datum.value)/LN10))<0.01?6:3"}}}}}},
    "detail": {"field": "s"}}},
  {"data": {"name": "d3"},
   "mark": {"type": "rule", "color": "#ff0000", "opacity": 0.5, "strokeWidth": 1, "clip": true},
   "encoding": {
    "x": {"field": "f", "type": "quantitative", "scale": {"type": "log", "domain": [0.1, 73], "nice": false}, "axis": {"orient": "top", "labels": false, "title": null, "values": [0.1,0.2,0.3,0.4,0.5,0.6,0.7,0.8,0.9,1,2,3,4,5,6,7,8,9,10,20,30,40,50,60,70], "encode": {"ticks": {"update": {"y2": {"signal": "abs(log(datum.value)/LN10-round(log(datum.value)/LN10))<0.01?6:3"}}}}}},
    "y": {"field": "l", "type": "quantitative", "scale": {"type": "log", "domain": [6.9e-7, 0.0155], "nice": false}, "axis": {"orient": "right", "labels": false, "title": null, "values": [7e-7,8e-7,9e-7,1e-6,2e-6,3e-6,4e-6,5e-6,6e-6,7e-6,8e-6,9e-6,1e-5,2e-5,3e-5,4e-5,5e-5,6e-5,7e-5,8e-5,9e-5,1e-4,2e-4,3e-4,4e-4,5e-4,6e-4,7e-4,8e-4,9e-4,0.001,0.002,0.003,0.004,0.005,0.006,0.007,0.008,0.009,0.01], "encode": {"ticks": {"update": {"x2": {"signal": "abs(log(datum.value)/LN10-round(log(datum.value)/LN10))<0.01?-6:-3"}}}}}},
    "y2": {"field": "h"}}},
  {"data": {"name": "d3"},
   "mark": {"type": "tick", "orient": "horizontal", "color": "#ff0000", "size": 6, "thickness": 1, "clip": true},
   "encoding": {"x": {"field": "f", "type": "quantitative", "scale": {"type": "log", "domain": [0.1, 73], "nice": false}, "axis": null},
    "y": {"field": "l", "type": "quantitative", "scale": {"type": "log", "domain": [6.9e-7, 0.0155], "nice": false}, "axis": null}}},
  {"data": {"name": "d3"},
   "mark": {"type": "tick", "orient": "horizontal", "color": "#ff0000", "size": 6, "thickness": 1, "clip": true},
   "encoding": {"x": {"field": "f", "type": "quantitative", "scale": {"type": "log", "domain": [0.1, 73], "nice": false}, "axis": null},
    "y": {"field": "h", "type": "quantitative", "scale": {"type": "log", "domain": [6.9e-7, 0.0155], "nice": false}, "axis": null}}},
  {"data": {"name": "d3"},
   "mark": {"type": "tick", "orient": "horizontal", "color": "#ff0000", "size": 8, "thickness": 1, "clip": true},
   "encoding": {"x": {"field": "f", "type": "quantitative", "scale": {"type": "log", "domain": [0.1, 73], "nice": false}, "axis": null},
    "y": {"field": "p", "type": "quantitative", "scale": {"type": "log", "domain": [6.9e-7, 0.0155], "nice": false}, "axis": null}}},
  {"data": {"name": "m3"}, "transform": [{"filter": "datum.s == 't'"}],
   "mark": {"type": "line", "color": "#3b3bff", "strokeWidth": 1.2, "strokeDash": [1.5, 2], "clip": true, "interpolate": "monotone"},
   "encoding": {"x": {"field": "f", "type": "quantitative", "scale": {"type": "log", "domain": [0.1, 73], "nice": false}, "axis": null},
    "y": {"field": "p", "type": "quantitative", "scale": {"type": "log", "domain": [6.9e-7, 0.0155], "nice": false}, "axis": null}}},
  {"data": {"name": "t3"},
   "mark": {"type": "text", "font": "Liberation Serif", "fontSize": 9.5, "fontWeight": "bold", "color": "#1414ff", "align": "center", "baseline": "middle"},
   "encoding": {"x": {"field": "f", "type": "quantitative", "scale": {"type": "log", "domain": [0.1, 73], "nice": false}, "axis": null},
    "y": {"field": "p", "type": "quantitative", "scale": {"type": "log", "domain": [6.9e-7, 0.0155], "nice": false}, "axis": null},
    "text": {"field": "t"}}}
 ]},
{"width": 182, "height": 137,
 "resolve": {"axis": {"x": "independent", "y": "independent"}},
 "layer": [
  {"data": {"name": "d4"},
   "mark": {"type": "rule", "color": "#ff0000", "opacity": 0.5, "strokeWidth": 1, "clip": true},
   "encoding": {
    "x": {"field": "f", "type": "quantitative", "scale": {"type": "log", "domain": [0.1, 73], "nice": false}, "axis": {"orient": "bottom", "title": "Frequency (Hz)", "titlePadding": 5, "labelPadding": 4, "values": [0.1,0.2,0.3,0.4,0.5,0.6,0.7,0.8,0.9,1,2,3,4,5,6,7,8,9,10,20,30,40,50,60,70], "labelExpr": "datum.value==0.1?'0.1':datum.value==1?'1':datum.value==10?'10':''", "encode": {"ticks": {"update": {"y2": {"signal": "abs(log(datum.value)/LN10-round(log(datum.value)/LN10))<0.01?-6:-3"}}}}}},
    "y": {"field": "l", "type": "quantitative", "scale": {"type": "log", "domain": [6.9e-7, 0.0155], "nice": false}, "axis": {"orient": "left", "labels": false, "title": null, "values": [7e-7,8e-7,9e-7,1e-6,2e-6,3e-6,4e-6,5e-6,6e-6,7e-6,8e-6,9e-6,1e-5,2e-5,3e-5,4e-5,5e-5,6e-5,7e-5,8e-5,9e-5,1e-4,2e-4,3e-4,4e-4,5e-4,6e-4,7e-4,8e-4,9e-4,0.001,0.002,0.003,0.004,0.005,0.006,0.007,0.008,0.009,0.01], "encode": {"ticks": {"update": {"x2": {"signal": "abs(log(datum.value)/LN10-round(log(datum.value)/LN10))<0.01?6:3"}}}}}},
    "y2": {"field": "h"}}},
  {"data": {"name": "d4"},
   "mark": {"type": "tick", "orient": "horizontal", "color": "#ff0000", "size": 6, "thickness": 1, "clip": true},
   "encoding": {"x": {"field": "f", "type": "quantitative", "scale": {"type": "log", "domain": [0.1, 73], "nice": false}, "axis": {"orient": "top", "labels": false, "title": null, "values": [0.1,0.2,0.3,0.4,0.5,0.6,0.7,0.8,0.9,1,2,3,4,5,6,7,8,9,10,20,30,40,50,60,70], "encode": {"ticks": {"update": {"y2": {"signal": "abs(log(datum.value)/LN10-round(log(datum.value)/LN10))<0.01?6:3"}}}}}},
    "y": {"field": "l", "type": "quantitative", "scale": {"type": "log", "domain": [6.9e-7, 0.0155], "nice": false}, "axis": {"orient": "right", "labels": false, "title": null, "values": [7e-7,8e-7,9e-7,1e-6,2e-6,3e-6,4e-6,5e-6,6e-6,7e-6,8e-6,9e-6,1e-5,2e-5,3e-5,4e-5,5e-5,6e-5,7e-5,8e-5,9e-5,1e-4,2e-4,3e-4,4e-4,5e-4,6e-4,7e-4,8e-4,9e-4,0.001,0.002,0.003,0.004,0.005,0.006,0.007,0.008,0.009,0.01], "encode": {"ticks": {"update": {"x2": {"signal": "abs(log(datum.value)/LN10-round(log(datum.value)/LN10))<0.01?-6:-3"}}}}}}}},
  {"data": {"name": "d4"},
   "mark": {"type": "tick", "orient": "horizontal", "color": "#ff0000", "size": 6, "thickness": 1, "clip": true},
   "encoding": {"x": {"field": "f", "type": "quantitative", "scale": {"type": "log", "domain": [0.1, 73], "nice": false}, "axis": null},
    "y": {"field": "h", "type": "quantitative", "scale": {"type": "log", "domain": [6.9e-7, 0.0155], "nice": false}, "axis": null}}},
  {"data": {"name": "d4"},
   "mark": {"type": "tick", "orient": "horizontal", "color": "#ff0000", "size": 8, "thickness": 1, "clip": true},
   "encoding": {"x": {"field": "f", "type": "quantitative", "scale": {"type": "log", "domain": [0.1, 73], "nice": false}, "axis": null},
    "y": {"field": "p", "type": "quantitative", "scale": {"type": "log", "domain": [6.9e-7, 0.0155], "nice": false}, "axis": null}}},
  {"data": {"name": "m4"},
   "mark": {"type": "line", "color": "#3b3bff", "strokeWidth": 1.2, "strokeDash": [1.5, 2], "clip": true},
   "encoding": {"x": {"field": "f", "type": "quantitative", "scale": {"type": "log", "domain": [0.1, 73], "nice": false}, "axis": null},
    "y": {"field": "p", "type": "quantitative", "scale": {"type": "log", "domain": [6.9e-7, 0.0155], "nice": false}, "axis": null}}},
  {"data": {"name": "t4"},
   "mark": {"type": "text", "font": "Liberation Serif", "fontSize": 9.5, "fontWeight": "bold", "color": "#1414ff", "align": "left", "baseline": "middle"},
   "encoding": {"x": {"field": "f", "type": "quantitative", "scale": {"type": "log", "domain": [0.1, 73], "nice": false}, "axis": null},
    "y": {"field": "p", "type": "quantitative", "scale": {"type": "log", "domain": [6.9e-7, 0.0155], "nice": false}, "axis": null},
    "text": {"field": "t"}}}
 ]}
]
}
